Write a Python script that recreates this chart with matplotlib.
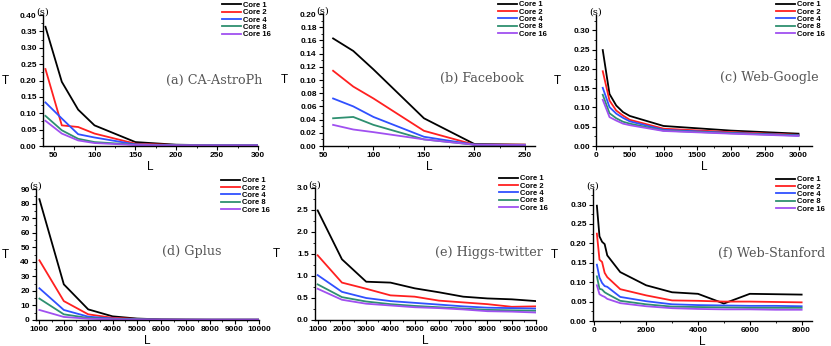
# -*- coding: utf-8 -*-

import numpy
from matplotlib import pyplot as plt
from matplotlib.ticker import AutoMinorLocator, MultipleLocator

plt.rcParams['font.family'] = ['Liberation Sans', 'DejaVu Sans']
plt.rcParams['font.weight'] = 'bold'
plt.rcParams['font.size'] = 6

# series names and colours
cores = ['Core 1', 'Core 2', 'Core 4', 'Core 8', 'Core 16']
colors = ['#000000', '#ff2020', '#3050ff', '#2e9070', '#a050f0']

# (a) CA-AstroPh
astro_L = [40, 60, 80, 100, 150, 200, 250, 300]
astro_T = [
    [0.364, 0.196, 0.111, 0.063, 0.012, 0.004, 0.002, 0.002],
    [0.235, 0.063, 0.058, 0.038, 0.007, 0.003, 0.002, 0.002],
    [0.133, 0.084, 0.036, 0.026, 0.005, 0.002, 0.002, 0.002],
    [0.092, 0.048, 0.022, 0.012, 0.004, 0.002, 0.002, 0.002],
    [0.077, 0.038, 0.017, 0.009, 0.003, 0.002, 0.002, 0.002],
]

# (b) Facebook
fb_L = [60, 80, 100, 150, 200, 250]
fb_T = [
    [0.163, 0.144, 0.116, 0.042, 0.003, 0.002],
    [0.114, 0.090, 0.072, 0.023, 0.002, 0.002],
    [0.072, 0.060, 0.044, 0.014, 0.002, 0.0015],
    [0.042, 0.044, 0.032, 0.010, 0.002, 0.0015],
    [0.032, 0.025, 0.021, 0.010, 0.002, 0.0015],
]

# (c) Web-Google
google_L = [100, 200, 300, 400, 500, 1000, 2000, 3000]
google_T = [
    [0.249, 0.135, 0.105, 0.088, 0.078, 0.052, 0.040, 0.032],
    [0.194, 0.118, 0.092, 0.079, 0.068, 0.045, 0.036, 0.029],
    [0.151, 0.101, 0.084, 0.073, 0.064, 0.042, 0.034, 0.028],
    [0.133, 0.085, 0.072, 0.063, 0.058, 0.040, 0.033, 0.027],
    [0.120, 0.075, 0.066, 0.058, 0.054, 0.039, 0.032, 0.026],
]

# (d) Gplus
gplus_L = [1000, 2000, 3000, 4000, 5000, 6000, 7000, 8000, 9000, 10000]
gplus_T = [
    [83.0, 24.5, 7.3, 2.5, 1.0, 0.4, 0.3, 0.2, 0.2, 0.2],
    [41.0, 13.0, 3.9, 1.5, 0.7, 0.3, 0.2, 0.2, 0.2, 0.2],
    [21.8, 6.9, 2.3, 1.0, 0.5, 0.3, 0.2, 0.2, 0.2, 0.2],
    [14.7, 3.9, 1.4, 0.7, 0.4, 0.2, 0.2, 0.2, 0.2, 0.2],
    [6.9, 2.1, 0.9, 0.5, 0.3, 0.2, 0.2, 0.2, 0.2, 0.2],
]

# (e) Higgs-twitter
higgs_L = [1000, 2000, 3000, 4000, 5000, 6000, 7000, 8000, 9000, 10000]
higgs_T = [
    [2.49, 1.38, 0.87, 0.85, 0.72, 0.63, 0.53, 0.49, 0.47, 0.43],
    [1.47, 0.85, 0.71, 0.56, 0.53, 0.44, 0.40, 0.36, 0.30, 0.31],
    [1.02, 0.64, 0.50, 0.43, 0.39, 0.35, 0.31, 0.28, 0.27, 0.26],
    [0.81, 0.52, 0.42, 0.36, 0.32, 0.29, 0.26, 0.23, 0.22, 0.21],
    [0.71, 0.46, 0.37, 0.33, 0.29, 0.27, 0.24, 0.20, 0.19, 0.17],
]

# (f) Web-Stanford
stanford_L = [100, 200, 300, 400, 500, 1000, 2000, 3000, 4000, 5000, 6000, 7000, 8000]
stanford_T = [
    [0.297, 0.218, 0.204, 0.198, 0.169, 0.126, 0.092, 0.074, 0.070, 0.045, 0.070, 0.069, 0.068],
    [0.225, 0.158, 0.152, 0.124, 0.113, 0.082, 0.066, 0.053, 0.052, 0.050, 0.050, 0.049, 0.048],
    [0.145, 0.112, 0.098, 0.090, 0.088, 0.062, 0.051, 0.043, 0.041, 0.040, 0.039, 0.039, 0.038],
    [0.115, 0.083, 0.081, 0.074, 0.070, 0.052, 0.043, 0.037, 0.036, 0.035, 0.034, 0.034, 0.034],
    [0.092, 0.069, 0.065, 0.062, 0.057, 0.046, 0.038, 0.033, 0.031, 0.030, 0.030, 0.029, 0.029],
]

W, H = 831.0, 346.0

# panel settings: data, title, axes box in pixels (left, top, right, bottom), limits, tick steps
panels = [
    (astro_L, astro_T, '(a) CA-AstroPh', (43, 15, 258, 146), (37, 300), (0, 0.40), 50, 0.05, (1.02, 0.50), (222, 5.5), '%.2f'),
    (fb_L, fb_T, '(b) Facebook', (323, 14, 535, 146), (50, 260), (0, 0.20), 50, 0.02, (0.945, 0.515), (498, 5), '%.2f'),
    (google_L, google_T, '(c) Web-Google', (596, 15, 812, 146), (0, 3200), (0, 0.34), 500, 0.05, (1.03, 0.52), (776, 5), '%.2f'),
    (gplus_L, gplus_T, '(d) Gplus', (36, 189, 259, 320), (860, 10000), (0, 90), 1000, 10, (0.83, 0.52), (221, 181), '%d'),
    (higgs_L, higgs_T, '(e) Higgs-twitter', (315, 188, 536, 320), (890, 10000), (0, 3.0), 1000, 0.5, (1.03, 0.51), (499, 179), '%.1f'),
    (stanford_L, stanford_T, '(f) Web-Stanford', (593, 189, 812, 321), (-50, 8400), (0, 0.34), 2000, 0.05, (1.06, 0.51), (776, 180), '%.2f'),
]

fig = plt.figure(figsize=(8.31, 3.46), dpi=100)

for L, T, title, box, xlim, ylim, xstep, ystep, tpos, lpos, yfmt in panels:
    left, top, right, bottom = box
    ax = fig.add_axes([left / W, 1 - bottom / H, (right - left) / W, (bottom - top) / H])

    for i in range(len(cores)):
        ax.plot(L, T[i], color=colors[i], lw=1.3, label=cores[i])

    ax.set_xlim(xlim)
    ax.set_ylim(ylim)
    ax.xaxis.set_major_locator(MultipleLocator(xstep))
    ax.yaxis.set_major_locator(MultipleLocator(ystep))
    ax.xaxis.set_minor_locator(AutoMinorLocator(2))
    ax.yaxis.set_minor_locator(AutoMinorLocator(2))
    ax.yaxis.set_major_formatter(plt.FormatStrFormatter(yfmt))

    # only left and bottom axis lines
    ax.spines['top'].set_visible(False)
    ax.spines['right'].set_visible(False)
    ax.spines['left'].set_linewidth(1.0)
    ax.spines['bottom'].set_linewidth(1.0)
    ax.tick_params(which='major', direction='out', length=3, width=0.8, pad=1.5, labelsize=6)
    ax.tick_params(which='minor', direction='out', length=1.5, width=0.6)

    ax.set_xlabel('L', fontsize=8.5, labelpad=1)
    ax.set_ylabel('T', fontsize=8.5, rotation=0, ha='center', va='center')
    # keep the T inside the figure for the left column
    label_x = max(left - 39, 5) - left
    ax.yaxis.set_label_coords(label_x / float(right - left), 0.5)

    # unit marker above the y axis
    ax.text(0.0, 0.985, '(s)', transform=ax.transAxes, ha='center', va='bottom',
            fontfamily='DejaVu Serif', fontweight='normal', fontsize=7)

    # panel name
    ax.text(tpos[0], tpos[1], title, transform=ax.transAxes, ha='right', va='center',
            fontfamily='DejaVu Serif', fontweight='normal', fontsize=9.2, color='#555555')

    ax.legend(loc='upper left', bbox_to_anchor=(lpos[0] / W, 1 - (lpos[1] - 4) / H),
              bbox_transform=fig.transFigure, frameon=False, borderpad=0, borderaxespad=0,
              labelspacing=0.0, handlelength=2.5, handletextpad=0.2,
              prop={'family': 'Liberation Sans', 'weight': 'bold', 'size': 5.5})

plt.savefig('out.png', dpi=100)
